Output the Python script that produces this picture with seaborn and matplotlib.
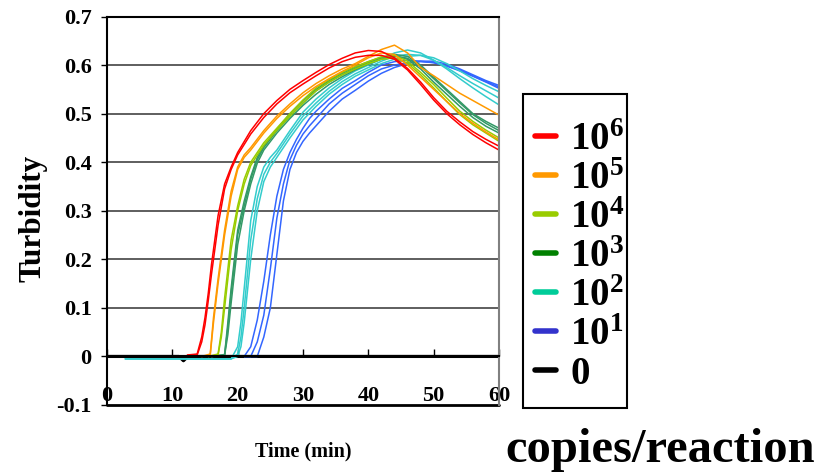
import pandas as pd
import matplotlib.pyplot as plt
from matplotlib.lines import Line2D
from matplotlib.patches import Rectangle
import seaborn as sns

# --- data (time in min, turbidity) ---
copies = ['0', '10^1', '10^2', '10^3', '10^4', '10^5', '10^6']

t_zero = [0.0, 11.0, 11.7, 12.4, 13.0, 60.0]
zero_a = [0.0, 0.0, -0.009, 0.0, 0.0, 0.0]
zero_b = [0.0, 0.0, 0.0, 0.0, 0.0, 0.0]

t_red = [12.3, 13.8, 14.5, 15.0, 15.5, 16.0, 17.0, 18.0, 19.0, 20.0, 22.0, 24.0, 26.0, 28.0, 30.0,
         32.0, 34.0, 36.0, 38.0, 40.0, 42.0, 44.0, 46.0, 48.0, 50.0, 52.0, 54.0, 56.0, 58.0, 60.0]
red_a = [0.003, 0.005, 0.04, 0.08, 0.13, 0.19, 0.29, 0.355, 0.39, 0.42, 0.465, 0.50, 0.527, 0.55, 0.568,
         0.585, 0.601, 0.614, 0.625, 0.63, 0.628, 0.615, 0.593, 0.565, 0.533, 0.505, 0.483, 0.463, 0.447, 0.433]
red_b = [0.002, 0.003, 0.03, 0.065, 0.115, 0.17, 0.27, 0.345, 0.385, 0.415, 0.458, 0.492, 0.52, 0.543, 0.561,
         0.578, 0.594, 0.607, 0.616, 0.62, 0.62, 0.612, 0.59, 0.56, 0.528, 0.50, 0.477, 0.457, 0.44, 0.425]

t_orange = [14.5, 15.8, 16.3, 17.0, 18.0, 19.0, 20.0, 21.0, 22.0, 24.0, 26.0, 28.0, 30.0, 32.0,
            34.0, 36.0, 38.0, 40.0, 42.0, 44.0, 46.0, 48.0, 50.0, 52.0, 54.0, 56.0, 58.0, 60.0]
orange_a = [0.0, 0.005, 0.08, 0.16, 0.26, 0.34, 0.39, 0.415, 0.43, 0.465, 0.495, 0.52, 0.543, 0.562,
            0.578, 0.592, 0.603, 0.618, 0.632, 0.641, 0.625, 0.595, 0.578, 0.56, 0.542, 0.527, 0.512, 0.497]
orange_b = [0.0, 0.003, 0.07, 0.15, 0.25, 0.33, 0.385, 0.41, 0.425, 0.46, 0.49, 0.515, 0.537, 0.556,
            0.572, 0.587, 0.60, 0.615, 0.625, 0.622, 0.60, 0.575, 0.55, 0.525, 0.50, 0.48, 0.462, 0.446]

t_yg = [15.5, 17.0, 17.5, 18.0, 19.0, 20.0, 21.0, 22.0, 23.0, 24.0, 26.0, 28.0, 30.0, 32.0,
        34.0, 36.0, 38.0, 40.0, 42.0, 44.0, 46.0, 48.0, 50.0, 52.0, 54.0, 56.0, 58.0, 60.0]
yg_a = [0.0, 0.005, 0.05, 0.12, 0.24, 0.31, 0.365, 0.40, 0.42, 0.44, 0.47, 0.50, 0.528, 0.553,
        0.57, 0.585, 0.597, 0.607, 0.617, 0.62, 0.608, 0.585, 0.56, 0.532, 0.505, 0.484, 0.466, 0.45]
yg_b = [0.0, 0.003, 0.04, 0.10, 0.22, 0.30, 0.355, 0.393, 0.415, 0.435, 0.466, 0.495, 0.522, 0.547,
        0.565, 0.58, 0.592, 0.603, 0.612, 0.615, 0.604, 0.58, 0.553, 0.525, 0.498, 0.477, 0.46, 0.443]

t_green = [16.0, 18.0, 18.5, 19.0, 20.0, 21.0, 22.0, 23.0, 24.0, 26.0, 28.0, 30.0, 32.0, 34.0,
           36.0, 38.0, 40.0, 42.0, 44.0, 46.0, 48.0, 50.0, 52.0, 54.0, 56.0, 58.0, 60.0]
green_a = [0.0, 0.003, 0.06, 0.13, 0.25, 0.31, 0.365, 0.405, 0.43, 0.465, 0.495, 0.522, 0.547, 0.565,
           0.58, 0.593, 0.605, 0.615, 0.622, 0.618, 0.60, 0.575, 0.55, 0.525, 0.50, 0.484, 0.47]
green_b = [0.0, 0.002, 0.045, 0.11, 0.23, 0.30, 0.355, 0.398, 0.425, 0.46, 0.49, 0.517, 0.54, 0.56,
           0.576, 0.59, 0.602, 0.612, 0.618, 0.614, 0.597, 0.572, 0.547, 0.522, 0.498, 0.48, 0.465]
green_c = [0.0, 0.004, 0.07, 0.14, 0.26, 0.32, 0.37, 0.41, 0.433, 0.468, 0.50, 0.527, 0.55, 0.568,
           0.583, 0.596, 0.607, 0.616, 0.62, 0.612, 0.592, 0.565, 0.54, 0.515, 0.492, 0.474, 0.46]

t_cyan = [2.8, 19.0, 20.0, 20.5, 21.0, 22.0, 23.0, 24.0, 25.0, 26.0, 28.0, 30.0, 32.0, 34.0,
          36.0, 38.0, 40.0, 42.0, 44.0, 46.0, 48.0, 50.0, 52.0, 54.0, 56.0, 58.0, 60.0]
cyan_a = [-0.005, -0.005, 0.02, 0.07, 0.14, 0.28, 0.35, 0.39, 0.41, 0.425, 0.465, 0.503, 0.53, 0.553,
          0.572, 0.588, 0.60, 0.613, 0.625, 0.631, 0.625, 0.61, 0.592, 0.572, 0.553, 0.535, 0.518]
cyan_b = [-0.005, -0.005, 0.005, 0.04, 0.10, 0.24, 0.325, 0.375, 0.40, 0.418, 0.458, 0.495, 0.522, 0.546,
          0.566, 0.582, 0.595, 0.608, 0.618, 0.622, 0.62, 0.61, 0.595, 0.578, 0.562, 0.547, 0.532]
cyan_c = [-0.005, -0.005, 0.0, 0.02, 0.07, 0.20, 0.30, 0.36, 0.39, 0.41, 0.45, 0.487, 0.515, 0.54,
          0.56, 0.577, 0.59, 0.603, 0.612, 0.618, 0.62, 0.615, 0.603, 0.588, 0.572, 0.558, 0.545]

t_blue = [21.0, 22.0, 23.0, 24.0, 25.0, 26.0, 27.0, 28.0, 29.0, 30.0, 31.0, 32.0, 34.0,
          36.0, 38.0, 40.0, 42.0, 44.0, 46.0, 48.0, 50.0, 52.0, 54.0, 56.0, 58.0, 60.0]
blue_a = [0.0, 0.02, 0.075, 0.155, 0.25, 0.33, 0.385, 0.42, 0.447, 0.47, 0.49, 0.505, 0.53,
          0.552, 0.568, 0.585, 0.60, 0.607, 0.61, 0.608, 0.605, 0.598, 0.59, 0.578, 0.566, 0.555]
blue_b = [0.0, 0.0, 0.03, 0.085, 0.18, 0.285, 0.355, 0.405, 0.435, 0.458, 0.475, 0.49, 0.52,
          0.542, 0.56, 0.578, 0.592, 0.60, 0.605, 0.607, 0.605, 0.598, 0.588, 0.577, 0.565, 0.552]
blue_c = [0.0, 0.0, 0.0, 0.04, 0.10, 0.21, 0.32, 0.385, 0.42, 0.443, 0.46, 0.475, 0.505,
          0.53, 0.548, 0.567, 0.583, 0.595, 0.603, 0.608, 0.608, 0.602, 0.592, 0.58, 0.568, 0.558]

curves = [
    ('0', t_zero, [zero_a, zero_b]),
    ('10^1', t_blue, [blue_a, blue_b, blue_c]),
    ('10^2', t_cyan, [cyan_a, cyan_b, cyan_c]),
    ('10^3', t_green, [green_a, green_b, green_c]),
    ('10^4', t_yg, [yg_a, yg_b]),
    ('10^5', t_orange, [orange_a, orange_b]),
    ('10^6', t_red, [red_a, red_b]),
]

rows = []
for label, tt, reps in curves:
    for i, vals in enumerate(reps):
        for t, v in zip(tt, vals):
            rows.append({'copies': label, 'rep': f'{label}_{i}', 'time': t, 'turbidity': v})
df = pd.DataFrame(rows)

line_colors = {'0': '#000000', '10^1': '#3366FF', '10^2': '#33CCCC', '10^3': '#339966',
               '10^4': '#99CC00', '10^5': '#FF9900', '10^6': '#FF0000'}
legend_colors = {'10^6': '#FF0000', '10^5': '#FF9900', '10^4': '#99CC00', '10^3': '#008000',
                 '10^2': '#00CC99', '10^1': '#3333CC', '0': '#000000'}
legend_labels = {'10^6': r'$\mathbf{10^{6}}$', '10^5': r'$\mathbf{10^{5}}$', '10^4': r'$\mathbf{10^{4}}$',
                 '10^3': r'$\mathbf{10^{3}}$', '10^2': r'$\mathbf{10^{2}}$', '10^1': r'$\mathbf{10^{1}}$',
                 '0': r'$\mathbf{0}$'}

x_ticks = [0, 10, 20, 30, 40, 50, 60]
y_ticks = [-0.1, 0.0, 0.1, 0.2, 0.3, 0.4, 0.5, 0.6, 0.7]
y_tick_labels = ['-0.1', '0', '0.1', '0.2', '0.3', '0.4', '0.5', '0.6', '0.7']

# --- style ---
sns.set_style('white')
plt.rcParams['font.family'] = ['Liberation Serif', 'DejaVu Serif']
plt.rcParams['font.weight'] = 'bold'
plt.rcParams['text.color'] = 'black'
plt.rcParams['xtick.color'] = 'black'
plt.rcParams['ytick.color'] = 'black'
plt.rcParams['axes.labelcolor'] = 'black'
plt.rcParams['mathtext.fontset'] = 'custom'
plt.rcParams['mathtext.rm'] = 'Liberation Serif:bold'
plt.rcParams['mathtext.bf'] = 'Liberation Serif:bold'
plt.rcParams['mathtext.it'] = 'Liberation Serif:bold:italic'

fig = plt.figure(figsize=(8.17, 4.76), dpi=100)
ax = fig.add_axes([107 / 817, 1 - 405 / 476, 392 / 817, 388.5 / 476])

# horizontal grid lines
for y in y_ticks[2:-1]:
    ax.axhline(y, color='#333333', lw=1.1, zorder=0)

sns.lineplot(data=df, x='time', y='turbidity', hue='copies', units='rep', estimator=None,
             hue_order=copies, palette=line_colors, linewidth=1.1, sort=False,
             legend=False, ax=ax)
# thicker black zero series
for ln in ax.get_lines():
    if ln.get_color() in ('#000000', 'black', (0.0, 0.0, 0.0, 1.0)):
        ln.set_linewidth(2.2)

ax.set_xlim(0, 60)
ax.set_ylim(-0.1, 0.7)
ax.spines['bottom'].set_position(('data', 0))
ax.spines['bottom'].set_linewidth(1.5)
ax.spines['bottom'].set_color('black')
ax.axhline(-0.1, color='black', lw=2.0, clip_on=False)
ax.spines['left'].set_color('black')
ax.spines['left'].set_linewidth(1.5)
ax.spines['top'].set_color('black')
ax.spines['top'].set_linewidth(1.5)
ax.spines['right'].set_color('#808080')
ax.spines['right'].set_linewidth(1.5)

ax.set_xticks(x_ticks)
ax.set_xticklabels([str(x) for x in x_ticks], fontsize=16, fontweight='bold')
ax.tick_params(axis='x', direction='in', length=5, width=1, pad=21, bottom=True)
ax.set_yticks(y_ticks)
ax.set_yticklabels(y_tick_labels, fontsize=16, fontweight='bold')
ax.tick_params(axis='y', direction='out', length=4, width=1, pad=7, left=True)
ax.set_xlabel('')
ax.set_ylabel('')

fig.text(33 / 817, 1 - 218 / 476, 'Turbidity', rotation=90, ha='center', va='center',
         fontsize=22.5, fontweight='bold')
fig.text(303 / 817, 1 - 451 / 476, 'Time (min)', ha='center', va='center',
         fontsize=14.5, fontweight='bold')
fig.text(660 / 817, 1 - 450 / 476, 'copies/reaction', ha='center', va='center',
         fontsize=35, fontweight='bold')

# legend (colours differ slightly from plotted lines, as in the source)
order = ['10^6', '10^5', '10^4', '10^3', '10^2', '10^1', '0']
handles = [Line2D([0], [0], color=legend_colors[k], lw=4) for k in order]
leg = fig.legend(handles, [legend_labels[k] for k in order], loc='upper left',
                 bbox_to_anchor=(535 / 817, 1 - 122 / 476), fontsize=28,
                 handlelength=0.55, handletextpad=0.35, borderpad=0.0, labelspacing=0.05,
                 frameon=False, borderaxespad=0)
fig.add_artist(Rectangle((523 / 817, 1 - 408 / 476), 104 / 817, 314 / 476,
                         transform=fig.transFigure, fill=False, lw=1.5, ec='black'))

fig.savefig('out.png', dpi=100)
